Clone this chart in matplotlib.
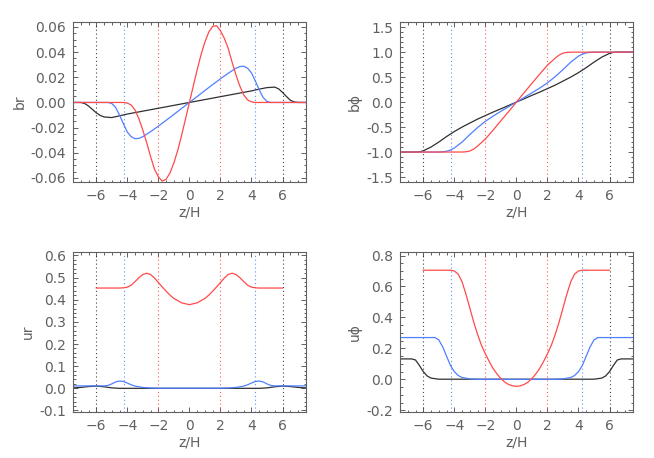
import numpy as np
import matplotlib
matplotlib.use('Agg')
import matplotlib.pyplot as plt
from matplotlib.ticker import MultipleLocator, FormatStrFormatter

# --- data ---
# vertical reference lines (z/H)
zline_k = [-6.0, 6.0]
zline_b = [-4.2, 4.2]
zline_r = [-2.0, 2.0]

# br
z_br_k = [-7.5, -7.0, -6.75, -6.5, -6.25, -6.0, -5.75, -5.5, -5.0, -4.5, -4.0, -3.0, -2.0, -1.0, 0.0,
          1.0, 2.0, 3.0, 4.0, 4.5, 5.0, 5.5, 5.75, 6.0, 6.25, 6.5, 6.75, 7.0, 7.5]
br_k = [0, 0, -0.0008, -0.0028, -0.0055, -0.0082, -0.0103, -0.0115, -0.0120, -0.0106, -0.0092, -0.0069,
        -0.0046, -0.0023, 0, 0.0023, 0.0046, 0.0069, 0.0092, 0.0106, 0.0118, 0.0122, 0.0108, 0.0080,
        0.0048, 0.0018, 0.0004, 0, 0]
z_br_b = [-7.5, -5.25, -5.0, -4.75, -4.5, -4.25, -4.0, -3.75, -3.5, -3.25, -3.0, -2.5, -2.0, -1.5, -1.0,
          -0.5, 0, 0.5, 1.0, 1.5, 2.0, 2.5, 3.0, 3.25, 3.5, 3.75, 4.0, 4.25, 4.5, 4.75, 5.0, 5.25, 7.5]
br_b = [0, 0, -0.0008, -0.004, -0.010, -0.017, -0.0235, -0.0272, -0.0288, -0.0285, -0.0272, -0.0232,
        -0.0188, -0.0142, -0.0095, -0.0047, 0, 0.0047, 0.0095, 0.0142, 0.0188, 0.0232, 0.0272, 0.0285,
        0.0288, 0.0272, 0.0235, 0.017, 0.010, 0.004, 0.0008, 0, 0]
z_br_r = [-7.5, -4.25, -4.0, -3.75, -3.5, -3.25, -3.0, -2.75, -2.5, -2.25, -2.0, -1.75, -1.5, -1.25,
          -1.0, -0.75, -0.5, -0.25, 0, 0.25, 0.5, 0.75, 1.0, 1.25, 1.5, 1.75, 2.0, 2.25, 2.5, 2.75,
          3.0, 3.25, 3.5, 3.75, 4.0, 4.25, 7.5]
br_r = [0, 0, -0.0005, -0.002, -0.006, -0.013, -0.022, -0.032, -0.043, -0.053, -0.059, -0.0625, -0.061,
        -0.056, -0.048, -0.038, -0.026, -0.013, 0, 0.013, 0.026, 0.038, 0.048, 0.056, 0.0605, 0.061,
        0.057, 0.051, 0.043, 0.032, 0.022, 0.013, 0.006, 0.002, 0.0005, 0, 0]

# b phi
z_bp_k = [-7.5, -6.5, -6.25, -6.0, -5.5, -5.0, -4.5, -4.0, -3.5, -3.0, -2.5, -2.0, -1.5, -1.0, -0.5, 0,
          0.5, 1.0, 1.5, 2.0, 2.5, 3.0, 3.5, 4.0, 4.5, 5.0, 5.5, 6.0, 6.25, 6.5, 7.5]
bp_k = [-1, -1, -0.995, -0.975, -0.90, -0.80, -0.69, -0.59, -0.50, -0.42, -0.34, -0.27, -0.20, -0.135,
        -0.067, 0, 0.067, 0.135, 0.20, 0.27, 0.34, 0.42, 0.50, 0.59, 0.69, 0.80, 0.90, 0.975, 0.995, 1, 1]
z_bp_b = [-7.5, -5.0, -4.75, -4.5, -4.25, -4.0, -3.5, -3.0, -2.5, -2.0, -1.5, -1.0, -0.5, 0, 0.5, 1.0,
          1.5, 2.0, 2.5, 3.0, 3.5, 4.0, 4.25, 4.5, 4.75, 5.0, 7.5]
bp_b = [-1, -1, -0.995, -0.985, -0.96, -0.92, -0.80, -0.65, -0.51, -0.385, -0.28, -0.185, -0.092, 0,
        0.092, 0.185, 0.28, 0.385, 0.51, 0.65, 0.80, 0.92, 0.96, 0.985, 0.995, 1, 1]
z_bp_r = [-7.5, -3.5, -3.25, -3.0, -2.75, -2.5, -2.25, -2.0, -1.5, -1.0, -0.5, 0, 0.5, 1.0, 1.5, 2.0,
          2.25, 2.5, 2.75, 3.0, 3.25, 3.5, 7.5]
bp_r = [-1, -1, -0.995, -0.98, -0.94, -0.88, -0.81, -0.74, -0.56, -0.375, -0.19, 0, 0.19, 0.375, 0.56,
        0.74, 0.81, 0.88, 0.94, 0.98, 0.995, 1, 1]

# ur
z_ur_k = [-7.5, -7.0, -6.5, -6.0, -5.5, -5.0, -4.5, 4.5, 5.0, 5.5, 6.0, 6.5, 7.0, 7.5]
ur_k = [0.002, 0.004, 0.008, 0.010, 0.007, 0.002, 0.0, 0.0, 0.002, 0.007, 0.010, 0.008, 0.004, 0.002]
z_ur_b = [-7.5, -5.5, -5.25, -5.0, -4.75, -4.5, -4.25, -4.0, -3.75, -3.5, -3.0, -2.5, -2.0, 2.0, 2.5,
          3.0, 3.5, 3.75, 4.0, 4.25, 4.5, 4.75, 5.0, 5.25, 5.5, 7.5]
ur_b = [0.011, 0.011, 0.013, 0.020, 0.029, 0.033, 0.031, 0.024, 0.016, 0.010, 0.004, 0.0015, 0.0005,
        0.0005, 0.0015, 0.004, 0.010, 0.016, 0.024, 0.031, 0.033, 0.029, 0.020, 0.013, 0.011, 0.011]
z_ur_r = [-6.0, -4.5, -4.25, -4.0, -3.75, -3.5, -3.25, -3.0, -2.75, -2.5, -2.25, -2.0, -1.75, -1.5,
          -1.25, -1.0, -0.5, 0, 0.5, 1.0, 1.25, 1.5, 1.75, 2.0, 2.25, 2.5, 2.75, 3.0, 3.25, 3.5, 3.75,
          4.0, 4.25, 4.5, 6.0]
ur_r = [0.453, 0.453, 0.454, 0.457, 0.466, 0.482, 0.500, 0.514, 0.520, 0.514, 0.498, 0.478, 0.458,
        0.439, 0.421, 0.406, 0.386, 0.378, 0.386, 0.406, 0.421, 0.439, 0.458, 0.478, 0.498, 0.514,
        0.520, 0.514, 0.500, 0.482, 0.466, 0.457, 0.454, 0.453, 0.453]

# u phi
z_up_k = [-7.5, -6.75, -6.5, -6.25, -6.0, -5.75, -5.5, -5.0, 5.0, 5.5, 5.75, 6.0, 6.25, 6.5, 6.75, 7.5]
up_k = [0.132, 0.132, 0.125, 0.09, 0.05, 0.022, 0.008, 0.001, 0.001, 0.008, 0.022, 0.05, 0.09, 0.125,
        0.132, 0.132]
z_up_b = [-7.5, -5.25, -5.0, -4.75, -4.5, -4.25, -4.0, -3.75, -3.5, -3.0, -2.5, 2.5, 3.0, 3.5, 3.75,
          4.0, 4.25, 4.5, 4.75, 5.0, 5.25, 7.5]
up_b = [0.27, 0.27, 0.255, 0.21, 0.15, 0.09, 0.05, 0.025, 0.012, 0.003, 0, 0, 0.003, 0.012, 0.025,
        0.05, 0.09, 0.15, 0.21, 0.255, 0.27, 0.27]
z_up_r = [-6.0, -4.25, -4.0, -3.75, -3.5, -3.25, -3.0, -2.75, -2.5, -2.25, -2.0, -1.75, -1.5, -1.25,
          -1.0, -0.75, -0.5, -0.25, 0, 0.25, 0.5, 0.75, 1.0, 1.25, 1.5, 1.75, 2.0, 2.25, 2.5, 2.75,
          3.0, 3.25, 3.5, 3.75, 4.0, 4.25, 6.0]
up_r = [0.705, 0.705, 0.70, 0.68, 0.63, 0.55, 0.46, 0.37, 0.29, 0.22, 0.165, 0.115, 0.07, 0.035, 0.005,
        -0.018, -0.033, -0.042, -0.045, -0.042, -0.033, -0.018, 0.005, 0.035, 0.07, 0.115, 0.165, 0.22,
        0.29, 0.37, 0.46, 0.55, 0.63, 0.68, 0.70, 0.705, 0.705]

K = '#303030'
B = '#5080ff'
R = '#ff4a4a'
GRAY = '#606060'

plt.rcParams['font.family'] = 'DejaVu Sans'
plt.rcParams['font.size'] = 10

fig = plt.figure(figsize=(6.54, 4.58), dpi=100)


def panel(pos, ylabel, ylim, ymajor, yminor, yfmt, series):
    ax = fig.add_axes(pos)
    for zz, col in ((zline_k, K), (zline_b, B), (zline_r, R)):
        for z0 in zz:
            ax.axvline(z0, color=col, ls=(0, (1, 2.5)), lw=0.8, alpha=0.9)
    for zz, yy, col in series:
        ax.plot(zz, yy, color=col, lw=0.9)
    ax.set_xlim(-7.5, 7.5)
    ax.set_ylim(*ylim)
    ax.xaxis.set_major_locator(MultipleLocator(2))
    ax.xaxis.set_minor_locator(MultipleLocator(0.5))
    ax.yaxis.set_major_locator(MultipleLocator(ymajor))
    ax.yaxis.set_minor_locator(MultipleLocator(yminor))
    ax.yaxis.set_major_formatter(FormatStrFormatter(yfmt))
    ax.tick_params(which='both', direction='in', top=True, right=True, colors=GRAY,
                   labelcolor=GRAY, labelsize=10, width=0.7)
    ax.tick_params(which='major', length=3.5, pad=5)
    ax.tick_params(which='minor', length=1.8)
    for s in ax.spines.values():
        s.set_color(GRAY)
        s.set_linewidth(0.8)
    ax.set_xlabel('z/H', color=GRAY, labelpad=2)
    ax.set_ylabel(ylabel, color=GRAY, labelpad=3)
    return ax


panel([0.1116, 0.6026, 0.356, 0.349], 'br', (-0.0632, 0.0638), 0.02, 0.005, '%.2f',
      [(z_br_k, br_k, K), (z_br_b, br_b, B), (z_br_r, br_r, R)])
panel([0.6116, 0.6026, 0.356, 0.349], 'b\u03d5', (-1.6, 1.6), 0.5, 0.1, '%.1f',
      [(z_bp_k, bp_k, K), (z_bp_b, bp_b, B), (z_bp_r, bp_r, R)])
panel([0.1116, 0.1004, 0.356, 0.349], 'ur', (-0.107, 0.615), 0.1, 0.02, '%.1f',
      [(z_ur_k, ur_k, K), (z_ur_b, ur_b, B), (z_ur_r, ur_r, R)])
panel([0.6116, 0.1004, 0.356, 0.349], 'u\u03d5', (-0.211, 0.8215), 0.2, 0.05, '%.1f',
      [(z_up_k, up_k, K), (z_up_b, up_b, B), (z_up_r, up_r, R)])

fig.savefig('out.png', dpi=100)
